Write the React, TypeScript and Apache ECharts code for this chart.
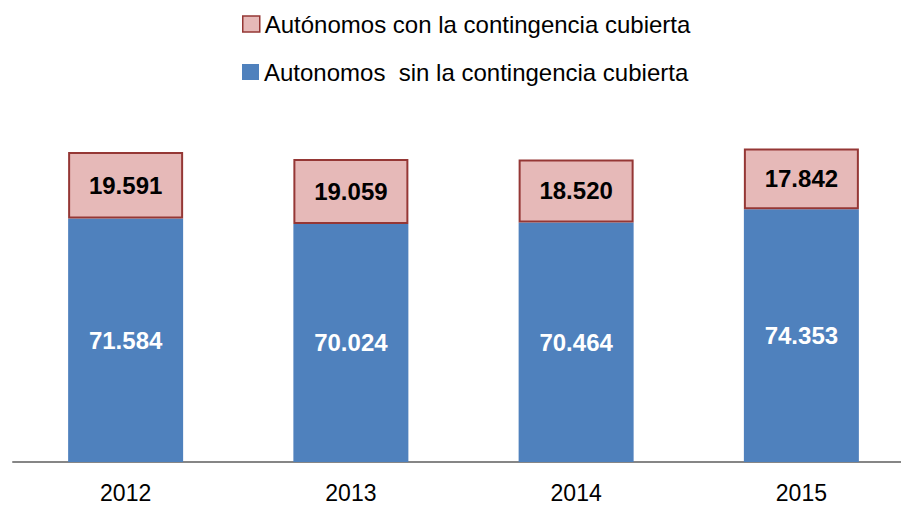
import React, { useEffect, useRef } from "react";
import * as echarts from "echarts";

const categories = ["2012", "2013", "2014", "2015"];
const sinCubierta = [71584, 70024, 70464, 74353];
const conCubierta = [19591, 19059, 18520, 17842];
const nameCon = "Autónomos con la contingencia cubierta";
const nameSin = "Autonomos  sin la contingencia cubierta";

const fmt = (v: number) => {
  const s = String(Math.round(v));
  return s.replace(/\B(?=(\d{3})+(?!\d))/g, ".");
};

export default function App() {
  const ref = useRef<HTMLDivElement>(null);
  useEffect(() => {
    if (!ref.current) return;
    const chart = echarts.init(ref.current, null, { renderer: "svg" });
    const font = "'Liberation Sans', Arial, sans-serif";
    chart.setOption({
      animation: false,
      backgroundColor: "#ffffff",
      textStyle: { fontFamily: font },
      legend: [
        {
          left: 237,
          top: 7,
          itemWidth: 17,
          itemHeight: 16,
          itemGap: 7,
          textStyle: { fontSize: 24, color: "#000", fontFamily: font },
          data: [
            {
              name: nameCon,
              icon: "rect",
              itemStyle: { color: "#E6B9B8", borderColor: "#953735", borderWidth: 1.5 },
            },
          ],
          selectedMode: false,
        },
        {
          left: 237,
          top: 55,
          itemWidth: 17,
          itemHeight: 16,
          itemGap: 7,
          textStyle: { fontSize: 24, color: "#000", fontFamily: font },
          data: [
            {
              name: nameSin,
              icon: "rect",
              itemStyle: { color: "#4F81BD", borderWidth: 0 },
            },
          ],
          selectedMode: false,
        },
      ],
      grid: { left: 13, right: 0, top: 122, bottom: 44 },
      xAxis: {
        type: "category",
        data: categories,
        axisLine: { lineStyle: { color: "#868686", width: 2 } },
        axisTick: { show: false },
        axisLabel: { fontSize: 23, color: "#000", margin: 19, fontFamily: font },
      },
      yAxis: {
        type: "value",
        min: 0,
        max: 100000,
        show: false,
        splitLine: { show: false },
      },
      series: [
        {
          name: nameSin,
          type: "bar",
          stack: "total",
          barWidth: 115,
          data: sinCubierta,
          itemStyle: { color: "#4F81BD" },
          label: {
            show: true,
            position: "inside",
            color: "#ffffff",
            fontWeight: "bold",
            fontSize: 24,
            fontFamily: font,
            formatter: (p: any) => fmt(p.value),
          },
        },
        {
          name: nameCon,
          type: "bar",
          stack: "total",
          barWidth: 115,
          data: conCubierta,
          itemStyle: { color: "#E6B9B8", borderColor: "#953735", borderWidth: 2 },
          label: {
            show: true,
            position: "inside",
            color: "#000000",
            fontWeight: "bold",
            fontSize: 24,
            fontFamily: font,
            formatter: (p: any) => fmt(p.value),
          },
        },
      ],
    });
    return () => chart.dispose();
  }, []);
  return (
    <div
      style={{
        position: "fixed",
        left: 0,
        top: 0,
        width: 901,
        height: 506,
        overflow: "hidden",
      }}
    >
      <div ref={ref} style={{ width: 914, height: 506 }} />
    </div>
  );
}
